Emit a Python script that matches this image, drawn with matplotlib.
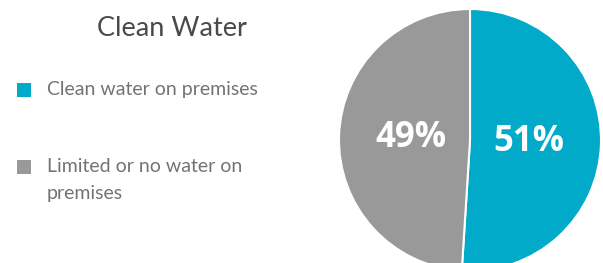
import matplotlib
matplotlib.use("Agg")
import matplotlib.pyplot as plt
from matplotlib.patches import Rectangle

title = "Clean Water"
categories = ["Clean water on premises", "Limited or no water on\npremises"]
values = [51, 49]
colors = ["#00AAC8", "#999999"]

W, H = 603, 263
fig = plt.figure(figsize=(W / 100, H / 100), dpi=100)
ax = fig.add_axes([0, 0, 1, 1])

wedges, texts, autotexts = ax.pie(
    values, colors=colors, startangle=90, counterclock=False,
    center=(470, H - 140), radius=131,
    autopct=lambda p: f"{p:.0f}%", pctdistance=0.45,
    wedgeprops=dict(edgecolor="white", linewidth=1.5),
    textprops=dict(color="white", fontsize=25, fontweight="bold",
                   family=["Open Sans", "DejaVu Sans"]),
    frame=True,
)
ax.set_xlim(0, W)
ax.set_ylim(0, H)
ax.set_aspect("equal")
ax.axis("off")

ax.text(172, H - 29, title, ha="center", va="center", fontsize=19.5,
        color="#4a4a4a", family=["Lato", "DejaVu Sans"], fontweight="normal")

ys = [90, 167]
for c, col, y in zip(categories, colors, ys):
    ax.add_patch(Rectangle((17, H - y - 7), 14, 14, color=col, lw=0))
    for i, line in enumerate(c.split("\n")):
        ax.text(47, H - y - 26 * i, line, ha="left", va="center",
                fontsize=14, color="#737373", family=["Lato", "DejaVu Sans"],
                fontweight="normal")

fig.savefig("out.png", dpi=100)
